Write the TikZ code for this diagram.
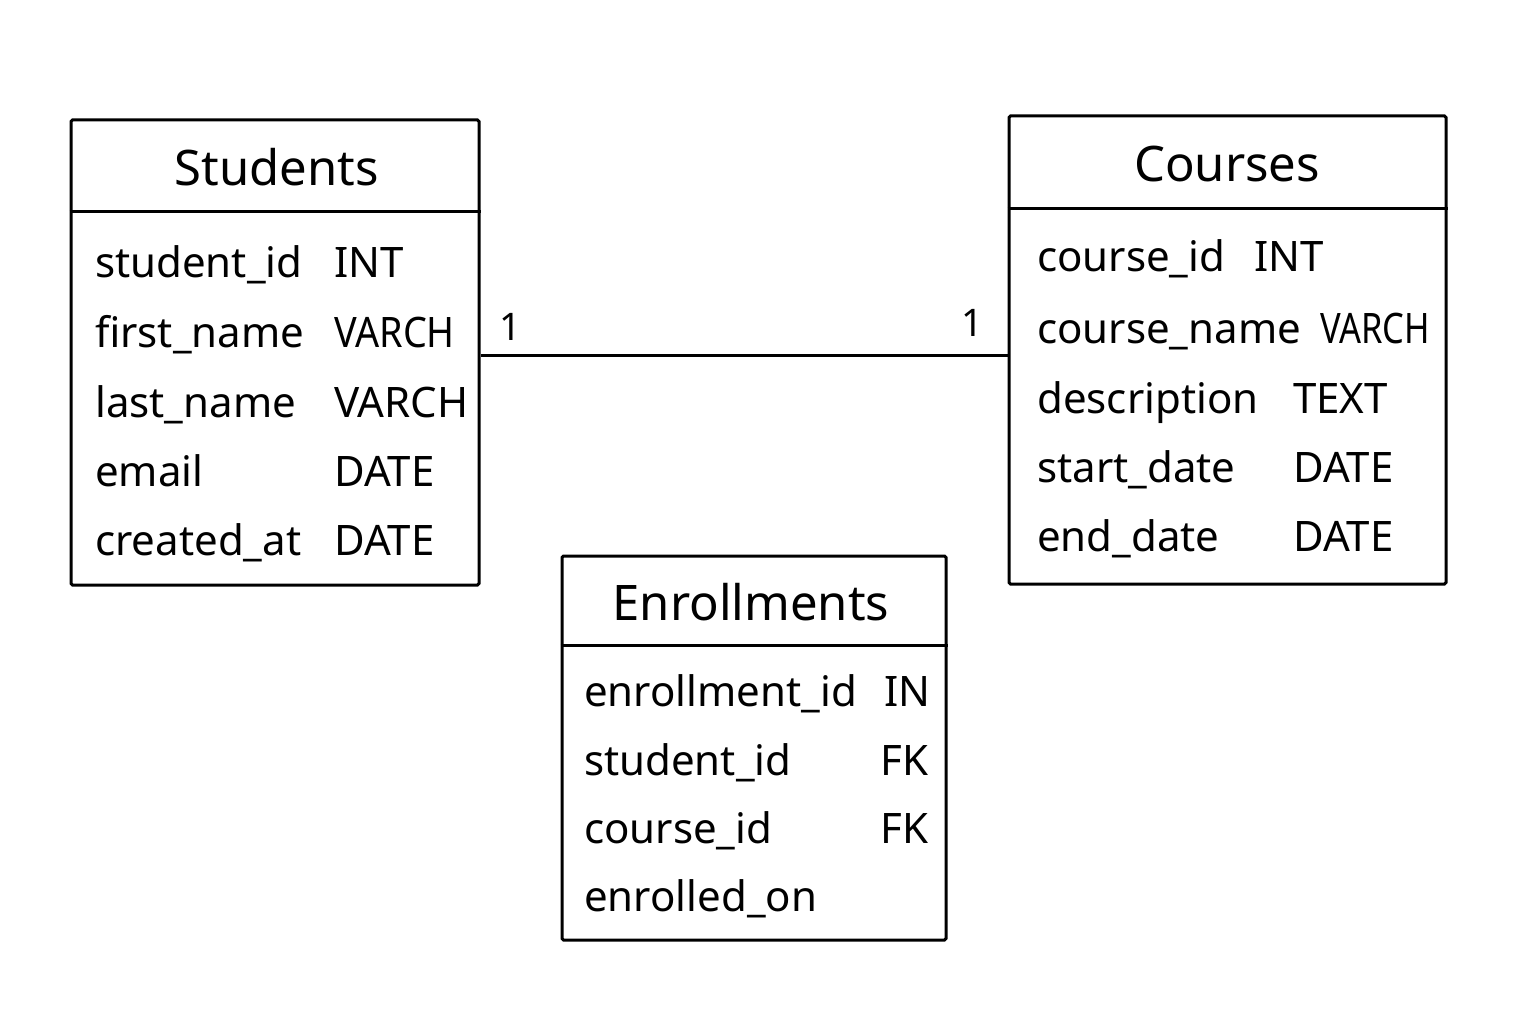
\documentclass[tikz,border=0pt]{standalone}
\usepackage{fontspec}
\setmainfont{Noto Sans}
\usetikzlibrary{positioning}

\tikzset{
  tbl/.style={draw, line width=3pt, rounded corners=1.5pt, inner sep=0pt},
  title/.style={anchor=base, inner sep=0pt, font=\fontsize{49}{58}\selectfont},
  field/.style={anchor=base west, inner sep=0pt, font=\fontsize{42}{50}\selectfont},
  card/.style={anchor=base, inner sep=0pt, font=\fontsize{38}{46}\selectfont}
}

\begin{document}
\begin{tikzpicture}[x=1pt,y=-1pt]
  \useasboundingbox (0,0) rectangle (1536,1024);
  % tables
  \node[tbl, minimum width=408, minimum height=465] (stu) at (275,352.5) {};
  \node[tbl, minimum width=437, minimum height=468] (crs) at (1227.5,350) {};
  \node[tbl, minimum width=384, minimum height=384] (enr) at (754,748) {};
  \draw[line width=3pt] (stu.west |- 0,212) -- (stu.east |- 0,212) ;
  \draw[line width=3pt] (crs.west |- 0,209) -- (crs.east |- 0,209) ;
  \draw[line width=3pt] (enr.west |- 0,645) -- (enr.east |- 0,645) ;
  % titles
  \node[title] (stut) at (277,186) {Students};
  \node[title] (crst) at (1227,182) {Courses};
  \node[title] (enrt) at (751,620) {Enrollments};
  % Students fields
  \node[field] (s1) at (95,277) {student\_id};
  \node[field] (s2) at (95,347) {first\_name};
  \node[field] (s3) at (95,417) {last\_name};
  \node[field] (s4) at (95,486) {email};
  \node[field] (s5) at (95,555) {created\_at};
  \node[field] (s1t) at (334,277) {INT};
  \node[field, xscale=0.9] (s2t) at (334,347) {VARCH};
  \node[field] (s3t) at (334,417) {VARCH};
  \node[field] (s4t) at (334,486) {DATE};
  \node[field] (s5t) at (334,555) {DATE};
  % Courses fields
  \node[field] (c1) at (1037,272) {course\_id};
  \node[field] (c2) at (1037,343) {course\_name};
  \node[field] (c3) at (1037,413) {description};
  \node[field] (c4) at (1037,482) {start\_date};
  \node[field] (c5) at (1037,551) {end\_date};
  \node[field] (c1t) at (1254,272) {INT};
  \node[field, xscale=0.82] (c2t) at (1320,343) {VARCH};
  \node[field] (c3t) at (1293,413) {TEXT};
  \node[field] (c4t) at (1293,482) {DATE};
  \node[field] (c5t) at (1293,551) {DATE};
  % Enrollments fields
  \node[field] (e1) at (584,706) {enrollment\_id};
  \node[field] (e2) at (584,775) {student\_id};
  \node[field] (e3) at (584,843) {course\_id};
  \node[field] (e4) at (584,911) {enrolled\_on};
  \node[field] (e1t) at (884,706) {IN};
  \node[field] (e2t) at (880,775) {FK};
  \node[field] (e3t) at (880,843) {FK};
  % relation
  \coordinate (ra) at (stu.east |- 0,355);
  \coordinate (rb) at (crs.west |- 0,355);
  \draw[line width=3pt] (ra) -- (rb) ;
  \node[card] (ca) at (510,340) {1};
  \node[card] (cb) at (972,336) {1};
\end{tikzpicture}
\end{document}
